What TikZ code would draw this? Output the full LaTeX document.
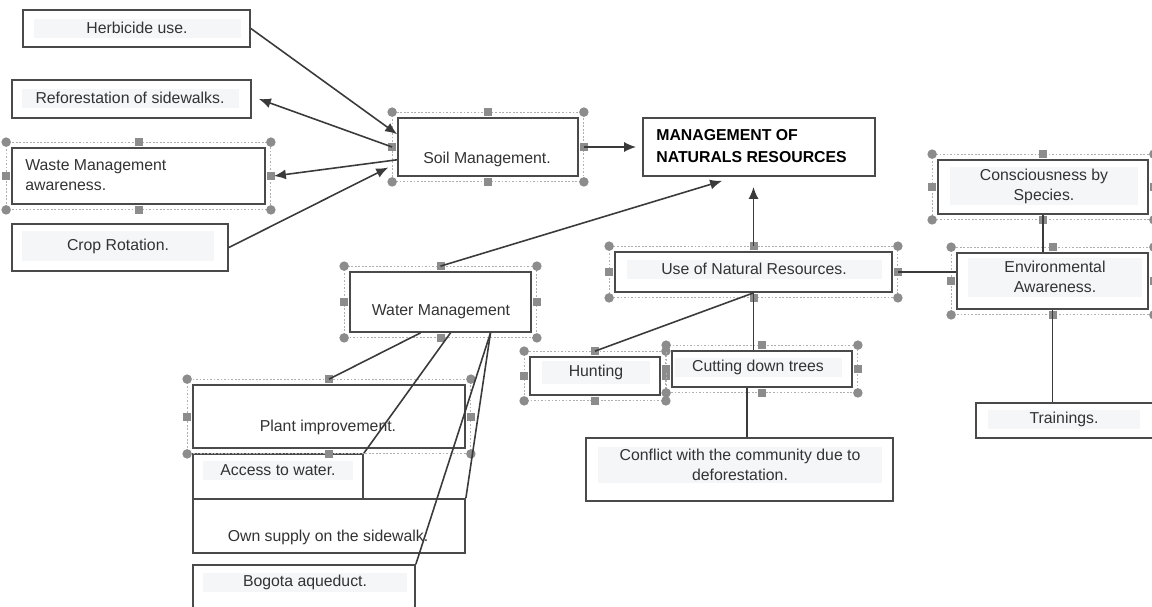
\documentclass[tikz,border=0pt]{standalone}
\usepackage{fontspec}
\setmainfont{Liberation Sans}
\usepackage{xcolor}
\usepackage{tikz}
\usetikzlibrary{arrows.meta, positioning}

\definecolor{boxgray}{HTML}{4A4A4A}
\definecolor{linegray}{HTML}{3A3A3A}
\definecolor{textgray}{HTML}{333333}
\definecolor{txtfill}{HTML}{F5F6F8}
\definecolor{hdlgray}{HTML}{8C8C8C}

% selection frame with handles round a node
\newcommand\selhandles[1]{%
  \draw[hdl] ([shift={(-0.1cm,0.1cm)}]#1.north west) rectangle ([shift={(0.1cm,-0.1cm)}]#1.south east);
  \foreach \an/\dx/\dy in {north west/-1/1, north east/1/1, south west/-1/-1, south east/1/-1}
    \fill[hdot] ([shift={(\dx*0.1cm,\dy*0.1cm)}]#1.\an) circle (0.095cm);
  \foreach \an/\dx/\dy in {north/0/1, south/0/-1, west/-1/0, east/1/0}
    \fill[hdot] ([shift={(\dx*0.1cm-0.08cm,\dy*0.1cm-0.08cm)}]#1.\an) rectangle ++(0.16cm,0.16cm);
}

\begin{document}
\begin{tikzpicture}[x=0.02cm, y=-0.02cm,
        box/.style={draw=boxgray, line width=1pt, fill=white, inner sep=0pt},
        wh/.style 2 args={minimum width=#1*0.02cm, minimum height=#2*0.02cm},
        lbl/.style={inner sep=0pt, text=textgray, align=center, font=\fontsize{9}{11.3}\selectfont},
        txt/.style={lbl, fill=txtfill, minimum height=0.38cm, minimum width=#1*0.02cm},
        arr/.style={-{Latex[length=2.4mm, width=2mm]}, line width=0.9pt, draw=linegray},
        con/.style={line width=0.9pt, draw=linegray},
        hdl/.style={draw=hdlgray!70, line width=0.5pt, dash pattern=on 1pt off 1pt},
        hdot/.style={fill=hdlgray}
    ]
    \useasboundingbox (0,0) rectangle (1152,606);
    \clip (0,0) rectangle (1152,606);

    % left column
    \node[box, wh={227}{37}] (herb) at (136.5,28.5) {};
    \node[txt=207] (herb-t) at (137,28) {Herbicide use.};
    \node[box, wh={239}{38}] (refor) at (131.5,99) {};
    \node[txt=217] (refor-t) at (130,98) {Reforestation of sidewalks.};
    \node[box, wh={253}{56}] (waste) at (138.5,176) {};
    \node[lbl, anchor=west, align=left] (waste-t) at (25,175) {Waste Management\\awareness.};
    \node[box, wh={216}{47}] (crop) at (120,247.5) {};
    \node[txt=192, minimum height=0.6cm] (crop-t) at (118,246) {Crop Rotation.};

    % centre
    \node[box, wh={180}{58}] (soil) at (488,147) {};
    \node[lbl] (soil-t) at (487,159) {Soil Management.};
    \node[box, wh={232}{58}] (mgmt) at (759,147) {};
    \node[lbl, anchor=west, align=left, text=black, font=\fontsize{9}{12.5}\selectfont\bfseries] (mgmt-t) at (656,146) {MANAGEMENT OF\\NATURALS RESOURCES};
    \node[box, wh={277}{40}] (use) at (753.5,272) {};
    \node[txt=255] (use-t) at (754,269) {Use of Natural Resources.};

    % water management and below
    \node[box, wh={181}{60}] (water) at (440.5,302) {};
    \node[lbl] (water-t) at (441,312) {Water Management};
    \node[box, wh={272}{63}] (plant) at (329,416.5) {};
    \node[lbl] (plant-t) at (328,427) {Plant improvement.};
    \node[box, wh={170}{45}] (access) at (278,476.5) {};
    \node[txt=150] (access-t) at (278,470) {Access to water.};
    \node[box, wh={272}{54}] (own) at (329,526) {};
    \node[lbl] (own-t) at (328,537) {Own supply on the sidewalk.};
    \node[box, wh={222}{55}] (bogota) at (304,592.5) {};
    \node[txt=204] (bogota-t) at (305,582) {Bogota aqueduct.};

    % use of natural resources and below
    \node[box, wh={130}{38}] (hunt) at (595,376) {};
    \node[txt=108, minimum height=0.46cm] (hunt-t) at (596,372) {Hunting};
    \node[box, wh={180}{36}] (cut) at (762,369) {};
    \node[txt=167] (cut-t) at (758,367) {Cutting down trees};
    \node[box, wh={307}{63}] (confl) at (739.5,469.5) {};
    \node[txt=284, minimum height=0.72cm] (confl-t) at (740,465) {Conflict with the community due to\\deforestation.};

    % right column
    \node[box, wh={210}{54}] (consc) at (1043,187) {};
    \node[txt=188, minimum height=0.76cm] (consc-t) at (1044,186) {Consciousness by\\Species.};
    \node[box, wh={191}{56}] (env) at (1052.5,281) {};
    \node[txt=174, minimum height=0.78cm] (env-t) at (1055,277) {Environmental\\Awareness.};
    \node[box, wh={194}{35}] (train) at (1073,420.5) {};
    \node[txt=152] (train-t) at (1064,419) {Trainings.};

    % selection handles
    \foreach \n in {waste, soil, use, water, plant, hunt, cut, consc, env}
        {\selhandles{\n}}

    % arrows round soil management
    \draw[arr] (herb.east) -- (soil.172);
    \draw[arr] ([xshift=-0.1cm]soil.west) -- ([xshift=0.14cm]refor.east);
    \draw[arr] (soil.188) -- ([xshift=0.16cm]waste.east);
    \draw[arr, shorten >=0.2cm] (crop.east) -- (soil.190);
    \draw[arr] ([xshift=0.1cm]soil.east) -- ([xshift=-0.12cm]mgmt.west);
    \draw[arr] ([yshift=0.1cm]water.north) -- ([shift={(1.6cm,-0.08cm)}]mgmt.south west);
    \draw[arr] ([yshift=0.1cm]use.north) -- ([yshift=-0.2cm]use.north |- mgmt.south);

    % plain connectors
    \draw[con] ([xshift=0.1cm]use.east) -- (use.east -| env.west);
    \draw[con] (consc.south) -- (consc.south |- env.north);
    \draw[con] (env.south) -- (env.south |- train.north);
    \draw[con] (use.south) -- ([yshift=0.1cm]hunt.north);
    \draw[con] (use.south) -- (use.south |- cut.north);
    \draw[con] ([xshift=-0.3cm]cut.south) -- ([xshift=-0.3cm]cut.south |- confl.north);
    \draw[con] ([xshift=-0.4cm]water.south) -- ([yshift=0.1cm]plant.north);
    \draw[con] ([xshift=0.2cm]water.south) -- (access.north east);
    \draw[con] ([xshift=1cm]water.south) -- (own.north east);
    \draw[con] ([xshift=1cm]water.south) -- (bogota.north east);
\end{tikzpicture}
\end{document}
